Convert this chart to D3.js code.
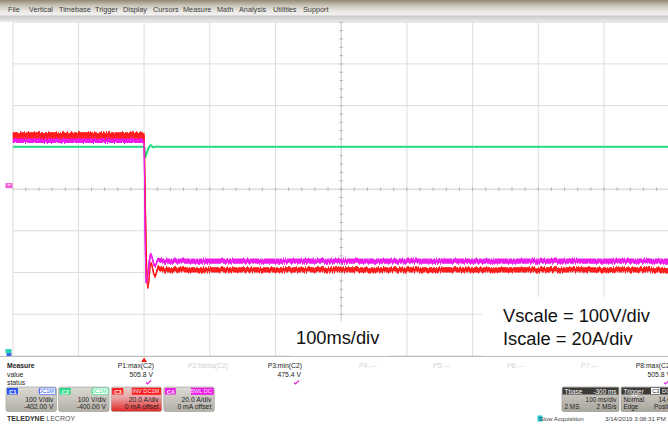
<!DOCTYPE html>
<html><head><meta charset="utf-8">
<script src="https://cdn.jsdelivr.net/npm/d3@7"></script>
<style>
html,body{margin:0;padding:0;background:#fff;overflow:hidden}
svg{display:block;font-family:"Liberation Sans",Arial,sans-serif}
</style>
</head><body>
<svg id="scope" width="668" height="428"></svg>
<script>
// ---------- data ----------
const menuItems = ["File","Vertical","Timebase","Trigger","Display","Cursors","Measure","Math","Analysis","Utilities","Support"];
const menuX = [8,29,59,95,123,153,183,217,239,273,303];

const timeTicks = [-200,-100,0,100,200,300,400,500,600,700,800];   // ms, 100 ms/div
const currentTicks = [-80,-60,-40,-20,0,20,40,60,80];              // A, 20 A/div

// C2 voltage (V), 100 V/div, offset -400 V
const c2Time  = [-200, 0, 0.7, 1.4, 4, 7, 10, 14, 19, 26, 800];
const c2Volts = [501.3, 501.3, 497, 475.4, 486, 499, 505.8, 500, 502.2, 501.3, 501.3];

// C3 current (A, inverted), 20 A/div
const c3Time   = [-200, 0, 1.5, 5.5, 10.5, 16, 22, 28, 800];
const c3Amps   = [25.8, 25.8, 0, -47.6, -35.4, -41.6, -38, -38.7, -38.7];
const c3Ripple = [2.4, 2.4, 0, 0, 0.6, 1.0, 1.6, 2.0, 2.0];

// C4 current (A), 20 A/div
const c4Time   = [-200, 0, 0.5, 3, 10, 16, 22, 28, 800];
const c4Amps   = [23.3, 23.3, 10, -45.0, -31.1, -36.6, -34, -34.5, -34.5];
const c4Ripple = [1.8, 1.8, 0, 0, 0.6, 1.0, 1.6, 1.9, 1.9];

// measurement table
const measNames  = ["P1:max(C2)","P2:fdelta(C2)","P3:min(C2)","P4:---","P5:---","P6:---","P7:---","P8:max(C2)"];
const measValues = ["505.8 V","","475.4 V","","","","","505.8 V"];
const measActive = [true,false,true,false,false,false,false,true];

// channel descriptors
const chanNames  = ["C1","C2","C3","C4"];
const chanTags   = ["DC1M","DC1M","INV DC1M","BWL DC"];
const chanScale  = ["100 V/div","100 V/div","20.0 A/div","20.0 A/div"];
const chanOffset = ["-402.00 V","-400.00 V","0 mA offset","0 mA offset"];
const chanColors = ["#2a55f0","#25dc86","#ff1d1d","#ee1ee8"];

const tbaseRows   = [["Tbase","-300 ms"],["","100 ms/div"],["2 MS","2 MS/s"]];
const triggerRows = [["Trigger",""],["Normal","14.0 A"],["Edge","Positive"]];

// ---------- layout ----------
const svg = d3.select("#scope");
const W = 668, H = 428;
const plot = {left: 12.7, right: 669.7, top: 22.2, bottom: 356};

const x  = d3.scaleLinear().domain([-200, 800]).range([plot.left, plot.right]);
const yV = d3.scaleLinear().domain([0, 800]).range([plot.bottom, plot.top]);
const yA = d3.scaleLinear().domain([-80, 80]).range([plot.bottom, plot.top]);

const defs = svg.append("defs");
function vGrad(id, stops) {
  const g = defs.append("linearGradient").attr("id",id).attr("x1",0).attr("y1",0).attr("x2",0).attr("y2",1);
  stops.forEach(([o,c]) => g.append("stop").attr("offset",o).attr("stop-color",c));
}
vGrad("menuGrad",  [[0,"#938874"],[0.35,"#cbc5b8"],[0.7,"#ebe9e5"],[1,"#f2f2f2"]]);
vGrad("stripGrad", [[0,"#c6c6c6"],[1,"#ececec"]]);
vGrad("boxGrad",   [[0,"#dcdad4"],[1,"#b3b0a8"]]);
vGrad("redBoxGrad",[[0,"#dcd6d0"],[0.45,"#e8a0a0"],[1,"#e42525"]]);
vGrad("tbGrad",    [[0,"#d3d0c9"],[1,"#a9a69e"]]);
defs.append("clipPath").attr("id","plotClip").append("rect")
  .attr("x", plot.left).attr("y", plot.top - 1).attr("width", W - plot.left).attr("height", plot.bottom - plot.top + 2);

// acquisition noise texture: vertical-only jitter on the trace bands
const noise = defs.append("filter").attr("id","jitter")
  .attr("x","-2%").attr("y","-20%").attr("width","104%").attr("height","140%");
noise.append("feTurbulence").attr("type","fractalNoise").attr("baseFrequency","1.1 0.02")
  .attr("numOctaves",1).attr("seed",3).attr("result","turb");
noise.append("feColorMatrix").attr("in","turb").attr("type","matrix")
  .attr("values","0 0 0 0 0.5  0 1 0 0 0  0 0 0 0 0  0 0 0 0 1").attr("result","map");
noise.append("feDisplacementMap").attr("in","SourceGraphic").attr("in2","map")
  .attr("scale",4.5).attr("xChannelSelector","R").attr("yChannelSelector","G");

svg.append("rect").attr("width",W).attr("height",H).attr("fill","#fff");

// ---------- menu bar ----------
svg.append("rect").attr("x",0).attr("y",0).attr("width",W).attr("height",16).attr("fill","url(#menuGrad)");
svg.append("rect").attr("x",0).attr("y",15.5).attr("width",W).attr("height",6.5).attr("fill","url(#stripGrad)");
svg.append("g").selectAll("text").data(menuItems).join("text")
  .attr("x",(d,i)=>menuX[i]).attr("y",12.2)
  .attr("font-size",7.3).attr("fill","#3c3c3c").text(d=>d);

// ---------- graticule ----------
const grid = svg.append("g").attr("clip-path","url(#plotClip)");
grid.selectAll("line.v").data(timeTicks).join("line")
  .attr("x1",d=>x(d)).attr("x2",d=>x(d)).attr("y1",plot.top).attr("y2",plot.bottom)
  .attr("stroke",(d,i)=> i===0 ? "#a8a8a8" : (d===300 ? "#c9c9c9" : "#dddddd"))
  .attr("stroke-width",1);
grid.selectAll("line.h").data(currentTicks).join("line")
  .attr("x1",plot.left).attr("x2",plot.right).attr("y1",d=>yA(d)).attr("y2",d=>yA(d))
  .attr("stroke",d=> d===0 ? "#c9c9c9" : "#dddddd").attr("stroke-width",1);

// minor ticks on the centre axes
const xMinor = d3.range(-200, 800.01, 20);
grid.selectAll("line.xt").data(xMinor).join("line")
  .attr("x1",d=>x(d)).attr("x2",d=>x(d)).attr("y1",yA(0)-1.8).attr("y2",yA(0)+1.8)
  .attr("stroke","#b5b5b5");
const yMinor = d3.range(-80, 80.01, 4);
grid.selectAll("line.yt").data(yMinor).join("line")
  .attr("x1",x(300)-1.8).attr("x2",x(300)+1.8).attr("y1",d=>yA(d)).attr("y2",d=>yA(d))
  .attr("stroke","#b5b5b5");

// bottom edge of the grid
svg.append("line").attr("x1",0).attr("x2",W).attr("y1",plot.bottom+0.5).attr("y2",plot.bottom+0.5)
  .attr("stroke","#bdbdbd");

// ---------- traces ----------
const traces = svg.append("g").attr("clip-path","url(#plotClip)");

const c2Line = d3.line().x((d,i)=>x(c2Time[i])).y(d=>yV(d)).curve(d3.curveMonotoneX);
traces.append("path").attr("d", c2Line(c2Volts))
  .attr("fill","none").attr("stroke",chanColors[1]).attr("stroke-width",2);

function band(times, amps, ripple, color, edgeWidth) {
  const idx = d3.range(times.length);
  const area = d3.area().x(i=>x(times[i]))
    .y0(i=>yA(amps[i] - ripple[i]/2)).y1(i=>yA(amps[i] + ripple[i]/2))
    .curve(d3.curveMonotoneX);
  const line = d3.line().x(i=>x(times[i])).y(i=>yA(amps[i])).curve(d3.curveMonotoneX);
  const g = traces.append("g");
  g.append("path").attr("d", area(idx)).attr("fill",color).attr("stroke",color).attr("stroke-width",1.2)
    .attr("filter","url(#jitter)");
  g.append("path").attr("d", line(idx)).attr("fill","none").attr("stroke",color).attr("stroke-width",edgeWidth);
}
band(c4Time, c4Amps, c4Ripple, chanColors[3], 1.0);
band(c3Time, c3Amps, c3Ripple, chanColors[2], 0.9);

// C4 step edge stays visible over C3 during the transient
const c4Edge = d3.line()
  .defined(i => c4Time[i] >= 0 && c4Time[i] <= 10)
  .x(i=>x(c4Time[i])).y(i=>yA(c4Amps[i])).curve(d3.curveMonotoneX);
traces.append("path").attr("d", c4Edge(d3.range(c4Time.length)))
  .attr("fill","none").attr("stroke",chanColors[3]).attr("stroke-width",1.1);

// ---------- annotation boxes ----------
svg.append("rect").attr("x",482).attr("y",297).attr("width",W-482).attr("height",plot.bottom-297)
  .attr("fill","#fff");
svg.append("rect").attr("x",290).attr("y",321).attr("width",96).attr("height",plot.bottom-321)
  .attr("fill","#fff");
svg.append("text").attr("x",296).attr("y",343.5).attr("font-size",18.3).attr("fill","#111").text("100ms/div");
svg.append("text").attr("x",503).attr("y",321.5).attr("font-size",18.3).attr("fill","#111").text("Vscale = 100V/div");
svg.append("text").attr("x",503).attr("y",344.5).attr("font-size",18.3).attr("fill","#111").text("Iscale = 20A/div");

// ---------- channel markers ----------
svg.append("rect").attr("x",5.5).attr("y",yA(0)-6).attr("width",7).attr("height",5).attr("fill","#ef5bd5");
svg.append("rect").attr("x",7.5).attr("y",yA(0)-5).attr("width",3).attr("height",1.4).attr("fill","#fbd2f2");
svg.append("rect").attr("x",5.5).attr("y",yV(0)-7).attr("width",6).attr("height",4).attr("fill","#2fd6b4");
svg.append("rect").attr("x",6.5).attr("y",yV(0)-3).attr("width",5).attr("height",3).attr("fill","#3a66e6");

// trigger position marker
const tx = x(0);
svg.append("path").attr("d",`M${tx},${plot.bottom+1.5} L${tx-3},${plot.bottom+6} L${tx+3},${plot.bottom+6} Z`).attr("fill","#f01c1c");

// ---------- measurement table ----------
const fs = 6.8;
const rowLabels = ["Measure","value","status"];
const rowY = [367.5, 376.5, 385];
svg.append("g").selectAll("text").data(rowLabels).join("text")
  .attr("x",7).attr("y",(d,i)=>rowY[i]).attr("font-size",fs)
  .attr("font-weight",(d,i)=> i===0 ? "bold" : "normal").attr("fill","#222").text(d=>d);

const measRight = d3.range(8).map(i => 154 + i*74);
const mg = svg.append("g").attr("text-anchor","end").attr("font-size",fs);
mg.selectAll("text.n").data(measNames).join("text")
  .attr("x",(d,i)=>measRight[i]).attr("y",rowY[0])
  .attr("fill",(d,i)=> measActive[i] ? "#222" : "#d2d2d2").text(d=>d);
mg.selectAll("text.v").data(measValues).join("text")
  .attr("x",(d,i)=>measRight[i]-1).attr("y",rowY[1]).attr("fill","#222").text(d=>d);
svg.append("g").selectAll("path").data(d3.range(8).filter(i=>measActive[i])).join("path")
  .attr("d",i=>{ const cx = measRight[i]-5; return `M${cx-3},${rowY[2]-2.5} L${cx-1.5},${rowY[2]-1} L${cx+2},${rowY[2]-4.5}`;})
  .attr("fill","none").attr("stroke","#e020d8").attr("stroke-width",1.1);

// ---------- channel boxes ----------
const boxW = 50.5, boxY = 387, boxH = 24.5;
const boxX = d3.range(4).map(i => 6 + i*52.6);
chanNames.forEach((name, i) => {
  const g = svg.append("g").attr("transform",`translate(${boxX[i]},${boxY})`);
  g.append("rect").attr("width",boxW).attr("height",boxH).attr("rx",2)
    .attr("fill", i===2 ? "url(#redBoxGrad)" : "url(#boxGrad)").attr("stroke","#9c9990").attr("stroke-width",0.6);
  g.append("rect").attr("x",1).attr("y",1).attr("width",11).attr("height",6.5).attr("fill",chanColors[i]);
  g.append("text").attr("x",3).attr("y",6.5).attr("font-size",5.8).attr("fill","#fff").attr("font-weight","bold").text(name);
  const tagW = chanTags[i].length * 3.2 + 3;
  const tx0 = boxW - 1 - tagW;
  const whiteTag = i===0 || i===1;
  g.append("rect").attr("x",tx0).attr("y",1).attr("width",tagW).attr("height",6.5)
    .attr("fill", whiteTag ? "#fff" : chanColors[i]).attr("stroke", chanColors[i]).attr("stroke-width",0.6);
  g.append("text").attr("x",boxW-2.5).attr("y",6.4).attr("text-anchor","end").attr("font-size",5.6)
    .attr("fill", whiteTag ? chanColors[i] : "#fde4f6").text(chanTags[i]);
  g.append("text").attr("x",boxW-3).attr("y",14.5).attr("text-anchor","end").attr("font-size",6.8).attr("fill","#1e1e1e").text(chanScale[i]);
  g.append("text").attr("x",boxW-3).attr("y",22).attr("text-anchor","end").attr("font-size",6.8).attr("fill","#1e1e1e").text(chanOffset[i]);
});

// brand
const brand = svg.append("text").attr("x",7).attr("y",421).attr("font-size",7).attr("fill","#333");
brand.append("tspan").attr("font-weight","bold").text("TELEDYNE ");
brand.append("tspan").attr("fill","#555").text("LECROY");

// ---------- timebase / trigger boxes ----------
function infoBox(x0, w, rows) {
  const g = svg.append("g").attr("transform",`translate(${x0},${boxY})`);
  g.append("rect").attr("width",w).attr("height",boxH).attr("rx",1.5).attr("fill","url(#tbGrad)").attr("stroke","#8f8c84").attr("stroke-width",0.6);
  g.append("rect").attr("x",0.5).attr("y",0.5).attr("width",w-1).attr("height",7).attr("fill","#3b3a37");
  rows.forEach((r, k) => {
    const y = [6.6, 14.5, 22][k];
    const col = k===0 ? "#fff" : "#1e1e1e";
    if (r[0]) g.append("text").attr("x",2.5).attr("y",y).attr("font-size",6.4).attr("fill",col).text(r[0]);
    if (r[1]) g.append("text").attr("x",w-2.5).attr("y",y).attr("text-anchor","end").attr("font-size",6.4).attr("fill",col).text(r[1]);
  });
  return g;
}
infoBox(562, 57, tbaseRows);
const trig = infoBox(621, 58, triggerRows);
trig.append("rect").attr("x",30).attr("y",1).attr("width",9).attr("height",6).attr("fill","#fff");
trig.append("text").attr("x",31).attr("y",6.3).attr("font-size",5.8).attr("fill","#222").text("C3");
trig.append("text").attr("x",41).attr("y",6.3).attr("font-size",5.8).attr("fill","#fff").text("DC");

// status line
svg.append("rect").attr("x",537.5).attr("y",415.5).attr("width",5).attr("height",6).attr("fill","#29c7d8");
svg.append("text").attr("x",539).attr("y",421).attr("font-size",6.2).attr("fill","#444").text("Slow Acquisition");
svg.append("text").attr("x",605).attr("y",421).attr("font-size",6.2).attr("fill","#444").text("3/14/2019 3:08:31 PM");
</script>
</body></html>
